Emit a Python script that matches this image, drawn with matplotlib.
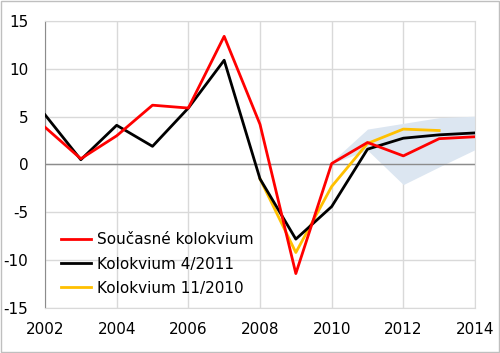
import numpy as np
import matplotlib.pyplot as plt

plt.rcParams['axes.unicode_minus'] = False

# Data
roky = [2002, 2003, 2004, 2005, 2006, 2007, 2008, 2009, 2010, 2011, 2012, 2013, 2014]
soucasne = [3.9, 0.6, 3.0, 6.2, 5.9, 13.4, 4.2, -11.4, 0.1, 2.3, 0.9, 2.7, 2.9]
kolokvium_4_2011 = [5.2, 0.5, 4.1, 1.9, 5.9, 10.9, -1.5, -7.8, -4.4, 1.6, 2.75, 3.1, 3.3]

roky_11_2010 = [2008, 2009, 2010, 2011, 2012, 2013]
kolokvium_11_2010 = [-1.5, -9.2, -2.3, 2.2, 3.7, 3.55]

roky_pasmo = [2010, 2011, 2012, 2013, 2014]
pasmo_horni = [0.3, 3.7, 4.3, 4.9, 5.05]
pasmo_dolni = [0.1, 1.5, -2.1, -0.25, 1.55]

fig = plt.figure(figsize=(5, 3.53), dpi=100)
ax = fig.add_axes([0.09, 0.1275, 0.86, 0.813])

# Border around the whole figure
fig.patches.append(plt.Rectangle((0.002, 0.002), 0.996, 0.996, transform=fig.transFigure,
                                 fill=False, edgecolor='#bfbfbf', linewidth=1))

ax.fill_between(roky_pasmo, pasmo_dolni, pasmo_horni, color='#dce6f1', linewidth=0, zorder=1)

ax.plot(roky, soucasne, color='#ff0000', linewidth=2, label='Současné kolokvium', zorder=4)
ax.plot(roky, kolokvium_4_2011, color='black', linewidth=2, label='Kolokvium 4/2011', zorder=3)
ax.plot(roky_11_2010, kolokvium_11_2010, color='#ffc000', linewidth=2, label='Kolokvium 11/2010', zorder=2)

ax.set_xlim(2002, 2014)
ax.set_ylim(-15, 15)
ax.set_xticks(range(2002, 2015, 2))
ax.set_yticks(range(-15, 16, 5))
ax.grid(True, color='#d9d9d9', linewidth=1, zorder=0)
ax.set_axisbelow(True)
ax.axhline(0, color='#8c8c8c', linewidth=1, zorder=1.5)

for s in ['top', 'right', 'bottom']:
    ax.spines[s].set_color('#d9d9d9')
ax.spines['left'].set_color('#8c8c8c')
ax.tick_params(length=0, labelsize=11)
ax.tick_params(axis='y', pad=12)
ax.tick_params(axis='x', pad=10)

ax.legend(loc='lower left', bbox_to_anchor=(0.005, -0.005), frameon=False, fontsize=11,
          handlelength=2.0, handletextpad=0.35, labelspacing=0.6)

plt.savefig('out.png', dpi=100)
